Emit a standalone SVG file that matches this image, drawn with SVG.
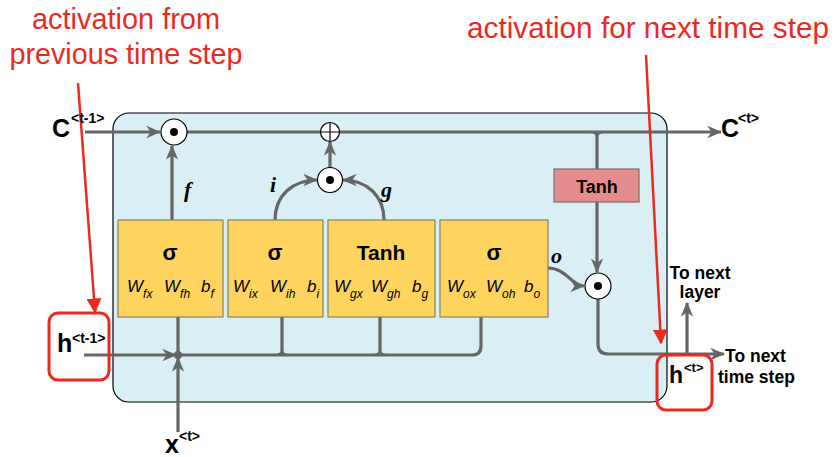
<svg xmlns="http://www.w3.org/2000/svg" width="834" height="457" viewBox="0 0 834 457">
<defs>
<marker id="ga" viewBox="0 0 12 10" refX="11" refY="5" markerWidth="15" markerHeight="12.5" markerUnits="userSpaceOnUse" orient="auto">
<path d="M0,0 L12,5 L0,10 L3.5,5 z" fill="#666"/>
</marker>
<marker id="ra" viewBox="0 0 10 10" refX="9" refY="5" markerWidth="15" markerHeight="15" markerUnits="userSpaceOnUse" orient="auto">
<path d="M0,0 L10,5 L0,10 z" fill="#ea2a1f"/>
</marker>
<style>
.gl{fill:none;stroke:#666;stroke-width:3.2}
.rl{fill:none;stroke:#ea2a1f;stroke-width:2.5}
.rb{fill:none;stroke:#ea2a1f;stroke-width:3}
.box{fill:#fed45f;stroke:#8c7f5a;stroke-width:1.2}
.op{fill:#fff;stroke:#000;stroke-width:1.2}
.dot{fill:#000}
.red{font-family:"Liberation Sans",Arial,sans-serif;font-size:29px;fill:#ea2a1f}
.bl{font-family:"Liberation Sans",Arial,sans-serif;font-weight:bold;fill:#000}
.w{font-family:"Liberation Sans",Arial,sans-serif;font-style:italic;font-size:17px;fill:#000}
.ws{font-size:12px}
.gt{font-family:"Liberation Serif","Times New Roman",serif;font-style:italic;font-weight:bold;font-size:22px;fill:#000}
</style>
</defs>

<g id="cell">
<rect x="113" y="113" width="554" height="289" rx="16" fill="#d9eff5" stroke="#000" stroke-width="1.2"/>
</g>

<g id="annotations">
<text class="red" x="126" y="29" text-anchor="middle" textLength="188" lengthAdjust="spacingAndGlyphs">activation from</text>
<text class="red" x="126" y="64" text-anchor="middle" textLength="233" lengthAdjust="spacingAndGlyphs">previous time step</text>
<text class="red" x="648" y="38" text-anchor="middle" textLength="362" lengthAdjust="spacingAndGlyphs">activation for next time step</text>
</g>

<g id="connectors">
<path class="gl" d="M85,132 L160,132" marker-end="url(#ga)"/>
<path class="gl" d="M187,132 L321,132"/>
<path class="gl" d="M339,132 L721,132" marker-end="url(#ga)"/>
<path class="gl" d="M172,220 L172,146" marker-end="url(#ga)"/>
<path class="gl" d="M275,220 C275,196 292,180 317,180" marker-end="url(#ga)"/>
<path class="gl" d="M384,220 C384,196 367,180 343,180" marker-end="url(#ga)"/>
<path class="gl" d="M330,168 L330,142" marker-end="url(#ga)"/>
<path class="gl" d="M597,132 L597,169"/>
<path class="gl" d="M597,202 L597,272" marker-end="url(#ga)"/>
<path class="gl" d="M548,268 C566,268 572,286 584,286" marker-end="url(#ga)"/>
<path class="gl" d="M598,299 L598,344 Q598,354 608,354 L724,354" marker-end="url(#ga)"/>
<path class="gl" d="M687,354 L687,303" marker-end="url(#ga)"/>
<path class="gl" d="M84,355 L176,355" marker-end="url(#ga)"/>
<path class="gl" d="M178,355 L472,355 Q481,355 481,346 L481,317"/>
<path class="gl" d="M178,317 L178,355"/>
<path class="gl" d="M282,317 L282,355"/>
<path class="gl" d="M380,317 L380,355"/>
<path class="gl" d="M178,432 L178,358" marker-end="url(#ga)"/>
<path d="M591,133 Q597,134 597,140 Q597,134 603,133 z" fill="#666"/>
<path d="M276,354 Q282,353 282,347 Q282,353 288,354 z" fill="#666"/>
<path d="M374,354 Q380,353 380,347 Q380,353 386,354 z" fill="#666"/>
<circle cx="178" cy="355" r="4" fill="#666"/>
<path class="rl" d="M78,83 L95,312" marker-end="url(#ra)"/>
<path class="rl" d="M646,55 L661,343" marker-end="url(#ra)"/>
</g>

<g id="forget-mul">
<circle class="op" cx="174" cy="132" r="13"/>
<circle class="dot" cx="174" cy="132" r="4"/>
</g>
<g id="add">
<circle class="op" cx="330" cy="132" r="9.5"/>
<path d="M320.5,132 L339.5,132 M330,122.5 L330,141.5" stroke="#000" stroke-width="1.2"/>
</g>
<g id="input-mul">
<circle class="op" cx="330" cy="180" r="12.5"/>
<circle class="dot" cx="330" cy="180" r="4"/>
</g>
<g id="output-mul">
<circle class="op" cx="598" cy="286" r="13"/>
<circle class="dot" cx="598" cy="286" r="4"/>
</g>

<g id="gate-labels">
<text class="gt" x="184" y="197">f</text>
<text class="gt" x="270" y="192">i</text>
<text class="gt" x="381" y="197">g</text>
<text class="gt" x="551" y="263">o</text>
</g>

<g id="forget-gate">
<rect class="box" x="118" y="220" width="105" height="97"/>
<text class="bl" x="170" y="260" font-size="22" text-anchor="middle">σ</text>
<text class="w" x="127" y="292">W<tspan class="ws" dy="6">fx</tspan></text>
<text class="w" x="164" y="292">W<tspan class="ws" dy="6">fh</tspan></text>
<text class="w" x="201" y="292">b<tspan class="ws" dy="6">f</tspan></text>
</g>
<g id="input-gate">
<rect class="box" x="228" y="220" width="95" height="97"/>
<text class="bl" x="275" y="260" font-size="22" text-anchor="middle">σ</text>
<text class="w" x="233" y="292">W<tspan class="ws" dy="6">ix</tspan></text>
<text class="w" x="270" y="292">W<tspan class="ws" dy="6">ih</tspan></text>
<text class="w" x="307" y="292">b<tspan class="ws" dy="6">i</tspan></text>
</g>
<g id="cand-gate">
<rect class="box" x="328" y="220" width="107" height="97"/>
<text class="bl" x="381" y="260" font-size="21" text-anchor="middle">Tanh</text>
<text class="w" x="334" y="292">W<tspan class="ws" dy="6">gx</tspan></text>
<text class="w" x="371" y="292">W<tspan class="ws" dy="6">gh</tspan></text>
<text class="w" x="412" y="292">b<tspan class="ws" dy="6">g</tspan></text>
</g>
<g id="output-gate">
<rect class="box" x="440" y="220" width="108" height="97"/>
<text class="bl" x="494" y="260" font-size="22" text-anchor="middle">σ</text>
<text class="w" x="447" y="292">W<tspan class="ws" dy="6">ox</tspan></text>
<text class="w" x="486" y="292">W<tspan class="ws" dy="6">oh</tspan></text>
<text class="w" x="524" y="292">b<tspan class="ws" dy="6">o</tspan></text>
</g>
<g id="tanh-out">
<rect x="554" y="169" width="85" height="33" fill="#e58c8c" stroke="#7a6a6a" stroke-width="1.2"/>
<text class="bl" x="597" y="193" font-size="18" text-anchor="middle">Tanh</text>
</g>

<g id="c-prev">
<text class="bl" x="52" y="137" font-size="25">C</text>
<text class="bl" x="71" y="123" font-size="14">&lt;t-1&gt;</text>
</g>
<g id="c-next">
<text class="bl" x="721" y="137" font-size="25">C</text>
<text class="bl" x="738" y="123" font-size="14">&lt;t&gt;</text>
</g>
<g id="h-prev">
<rect class="rb" x="49" y="313" width="60" height="67" rx="9"/>
<text class="bl" x="57" y="352" font-size="25">h</text>
<text class="bl" x="72" y="343" font-size="14">&lt;t-1&gt;</text>
</g>
<g id="h-next">
<rect class="rb" x="657" y="355" width="55" height="55" rx="9"/>
<text class="bl" x="669" y="383" font-size="23">h</text>
<text class="bl" x="684" y="372" font-size="13">&lt;t&gt;</text>
</g>
<g id="x-in">
<text class="bl" x="165" y="453" font-size="25">x</text>
<text class="bl" x="179" y="441" font-size="14">&lt;t&gt;</text>
</g>
<g id="next-layer">
<text class="bl" x="700" y="279" font-size="17.5" text-anchor="middle">To next</text>
<text class="bl" x="700" y="298" font-size="17.5" text-anchor="middle">layer</text>
</g>
<g id="next-step">
<text class="bl" x="725" y="362" font-size="17.5">To next</text>
<text class="bl" x="718" y="383" font-size="17.5">time step</text>
</g>
</svg>
